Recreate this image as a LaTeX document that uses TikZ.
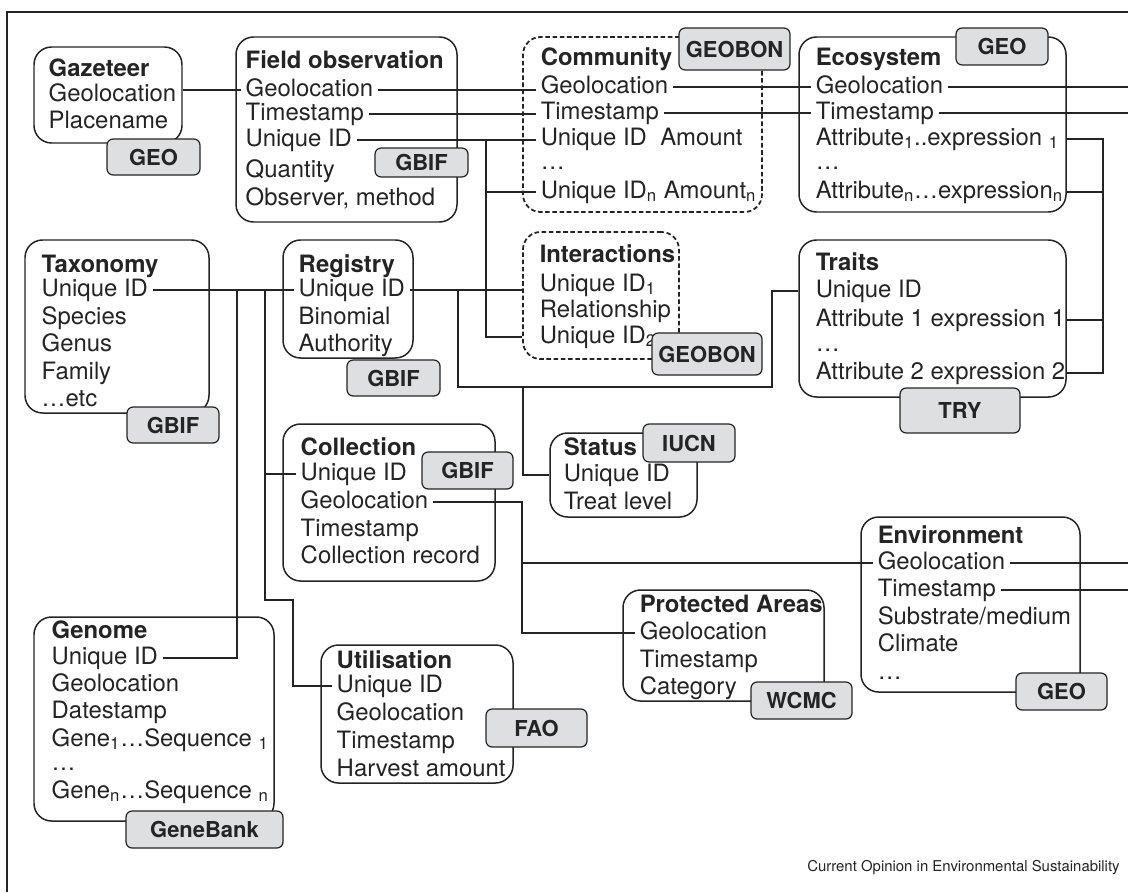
\documentclass[tikz,border=0pt]{standalone}
\usepackage{fontspec}
\setmainfont{TeX Gyre Heros}
\usetikzlibrary{fit,positioning}

\definecolor{ink}{HTML}{242424}
\definecolor{tagfill}{HTML}{DEDFE0}

\begin{document}
\begin{tikzpicture}[
    x=0.02cm, y=-0.02cm,
    entity/.style={draw=ink, line width=0.85pt, rounded corners=10pt, inner sep=0pt},
    weakentity/.style={entity, dash pattern=on 2.6pt off 1.5pt, line width=1pt},
    srctag/.style={draw=ink, fill=tagfill, line width=0.7pt, rounded corners=3.5pt, inner sep=0pt,
        label={[text=ink, inner sep=0pt, font=\bfseries\fontsize{12.5}{14}\selectfont]center:#1}},
    item/.style={anchor=west, inner xsep=2.5pt, inner ysep=0pt, text height=9pt, text depth=2pt,
        text=ink, font=\fontsize{13.6}{16}\selectfont},
    head/.style={item, font=\bfseries\fontsize{13.6}{16}\selectfont},
    link/.style={draw=ink, line width=0.65pt}
]
\useasboundingbox (0,0) rectangle (1128,892);

% Frame
\draw[ink, line width=0.7pt] (7,892) -- (7,12) -- (1128,12);
\coordinate (edge) at (1128,0);

% Tables
\node[entity, fit={(34,47) (182,143)}] (gaz) {};
\node[entity, fit={(236,37) (457,222)}] (fo) {};
\node[weakentity, fit={(523,37) (762,212)}] (com) {};
\node[entity, fit={(799,37) (1066,212)}] (eco) {};
\node[entity, fit={(25,240) (209,413)}] (tax) {};
\node[entity, fit={(283,240) (413,358)}] (reg) {};
\node[weakentity, fit={(523,232) (679,359)}] (int) {};
\node[entity, fit={(799,240) (1066,397)}] (tr) {};
\node[entity, fit={(283,424) (495,581)}] (col) {};
\node[entity, fit={(550,433) (697,517)}] (st) {};
\node[entity, fit={(861,517) (1080,692)}] (env) {};
\node[entity, fit={(623,590) (824,701)}] (pa) {};
\node[entity, fit={(321,645) (513,783)}] (uti) {};
\node[entity, fit={(34,617) (274,821)}] (gen) {};

% Gazetteer
\node[head] (gaz-t) at (44,70) {Gazeteer};
\node[item] (gaz-geo) at (44,95) {Geolocation};
\node[item] (gaz-place) at (44,122) {Placename};

% Field observation
\node[head] (fo-t) at (241,62) {Field observation};
\node[item] (fo-geo) at (241,90) {Geolocation};
\node[item] (fo-time) at (241,114) {Timestamp};
\node[item] (fo-uid) at (241,140) {Unique ID};
\node[item] (fo-qty) at (241,171) {Quantity};
\node[item] (fo-obs) at (241,199) {Observer, method};

% Community
\node[head] (com-t) at (536,59) {Community};
\node[item] (com-geo) at (536,87) {Geolocation};
\node[item] (com-time) at (536,113) {Timestamp};
\node[item] (com-uid) at (536,139) {Unique ID\ \ Amount};
\node[item] (com-dots) at (536,163) {…};
\node[item] (com-uidn) at (536,192) {Unique ID\textsubscript{n} Amount\textsubscript{n}};

% Ecosystem
\node[head] (eco-t) at (811,59) {Ecosystem};
\node[item] (eco-geo) at (811,87) {Geolocation};
\node[item] (eco-time) at (811,113) {Timestamp};
\node[item] (eco-att1) at (811,139) {Attribute\textsubscript{1}..expression \textsubscript{1}};
\node[item] (eco-dots) at (811,163) {…};
\node[item] (eco-attn) at (811,192) {Attribute\textsubscript{n}…expression\textsubscript{n}};

% Taxonomy
\node[head] (tax-t) at (37,266) {Taxonomy};
\node[item] (tax-uid) at (37,290) {Unique ID};
\node[item] (tax-sp) at (37,318) {Species};
\node[item] (tax-gen) at (37,345) {Genus};
\node[item] (tax-fam) at (37,373) {Family};
\node[item] (tax-etc) at (37,400) {…etc};

% Registry
\node[head] (reg-t) at (294,266) {Registry};
\node[item] (reg-uid) at (294,290) {Unique ID};
\node[item] (reg-bin) at (294,318) {Binomial};
\node[item] (reg-auth) at (294,345) {Authority};

% Interactions
\node[head] (int-t) at (535,256) {Interactions};
\node[item] (int-uid1) at (535,285) {Unique ID\textsubscript{1}};
\node[item] (int-rel) at (535,311) {Relationship};
\node[item] (int-uid2) at (535,337) {Unique ID\textsubscript{2}};

% Traits
\node[head] (tr-t) at (811,264) {Traits};
\node[item] (tr-uid) at (811,291) {Unique ID};
\node[item] (tr-att1) at (811,320) {Attribute 1 expression 1};
\node[item] (tr-dots) at (811,345) {…};
\node[item] (tr-att2) at (811,373) {Attribute 2 expression 2};

% Collection
\node[head] (col-t) at (296,449) {Collection};
\node[item] (col-uid) at (296,474) {Unique ID};
\node[item] (col-geo) at (296,502) {Geolocation};
\node[item] (col-time) at (296,530) {Timestamp};
\node[item] (col-rec) at (296,557) {Collection record};

% Status
\node[head] (st-t) at (559,449) {Status};
\node[item] (st-uid) at (559,475) {Unique ID};
\node[item] (st-lvl) at (559,503) {Treat level};

% Environment
\node[head] (env-t) at (873,537) {Environment};
\node[item] (env-geo) at (873,563) {Geolocation};
\node[item] (env-time) at (873,590) {Timestamp};
\node[item] (env-sub) at (873,618) {Substrate/medium};
\node[item] (env-clim) at (873,645) {Climate};
\node[item] (env-dots) at (873,673) {…};

% Protected Areas
\node[head] (pa-t) at (635,606) {Protected Areas};
\node[item] (pa-geo) at (635,633) {Geolocation};
\node[item] (pa-time) at (635,661) {Timestamp};
\node[item] (pa-cat) at (635,688) {Category};

% Utilisation
\node[head] (uti-t) at (332,662) {Utilisation};
\node[item] (uti-uid) at (332,686) {Unique ID};
\node[item] (uti-geo) at (332,714) {Geolocation};
\node[item] (uti-time) at (332,742) {Timestamp};
\node[item] (uti-harv) at (332,770) {Harvest amount};

% Genome
\node[head] (gen-t) at (47,632) {Genome};
\node[item] (gen-uid) at (47,658) {Unique ID};
\node[item] (gen-geo) at (47,685) {Geolocation};
\node[item] (gen-date) at (47,712) {Datestamp};
\node[item] (gen-seq1) at (47,740) {Gene\textsubscript{1}…Sequence \textsubscript{1}};
\node[item] (gen-dots) at (47,764) {…};
\node[item] (gen-seqn) at (47,792) {Gene\textsubscript{n}…Sequence \textsubscript{n}};

% Sources
\node[srctag=GEO, fit={(107,139) (200,175)}] (gaz-src) {};
\node[srctag=GBIF, fit={(375,148) (468,177)}] (fo-src) {};
\node[srctag=GEOBON, fit={(679,28) (790,70)}] (com-src) {};
\node[srctag=GEO, fit={(956,28) (1048,65)}] (eco-src) {};
\node[srctag=GBIF, fit={(127,407) (219,443)}] (tax-src) {};
\node[srctag=GBIF, fit={(347,360) (440,396)}] (reg-src) {};
\node[srctag=GEOBON, fit={(652,333) (762,375)}] (int-src) {};
\node[srctag=TRY, fit={(900,388) (1020,433)}] (tr-src) {};
\node[srctag=GBIF, fit={(422,452) (513,489)}] (col-src) {};
\node[srctag=IUCN, fit={(643,424) (735,462)}] (st-src) {};
\node[srctag=GEO, fit={(1016,673) (1107,710)}] (env-src) {};
\node[srctag=WCMC, fit={(751,682) (852,719)}] (pa-src) {};
\node[srctag=FAO, fit={(486,709) (587,747)}] (uti-src) {};
\node[srctag=GeneBank, fit={(126,811) (283,848)}] (gen-src) {};

% Links, top row
\draw[link] (gaz.east |- fo-geo) -- (fo-geo.west);
\draw[link] (fo-geo.east) -- (fo-geo.east -| com-geo.west);
\draw[link] (fo-time.east) -- (fo-time.east -| com-time.west);
\draw[link] (fo-uid.east) -- (fo-uid.east -| com-uid.west);
\draw[link] (com-geo.east) -- (eco-geo.west);
\draw[link] (com-time.east) -- (eco-time.west);
\draw[link] (eco-geo.east) -- (eco-geo.east -| edge);
\draw[link] (eco-time.east) -- (eco-time.east -| edge);

\coordinate (cj) at (486,0);
\draw[link] (cj |- fo-uid) |- (int.west |- int-uid2);
\draw[link] (cj |- com-uidn) -- (com-uidn.west);

\coordinate (bus) at (1103,0);
\draw[link] (eco.east |- eco-att1) -- (bus |- eco-att1) -- (bus |- tr-att2) -- (tr.east |- tr-att2);
\draw[link] (eco.east |- eco-attn) -- (bus |- eco-attn);
\draw[link] (tr.east |- tr-att1) -- (bus |- tr-att1);

% Links, taxonomy and registry
\draw[link] (tax-uid.east) -- (reg-uid.west);
\coordinate (ta) at (237,0);
\coordinate (tb) at (265,0);
\coordinate (tc) at (293,600);
\draw[link] (ta |- tax-uid) |- (gen-uid.east);
\draw[link] (tb |- tax-uid) |- (col-uid.west);
\draw[link] (tb |- col-uid) |- (tc) |- (uti-uid.west);

\draw[link] (reg-uid.east) -- (int.west |- reg-uid);
\coordinate (ra) at (458,0);
\coordinate (rb) at (772,387);
\coordinate (rc) at (523,387);
\draw[link] (ra |- reg-uid) |- (rb) |- (tr.west |- tr-uid);
\draw[link] (rc) |- (st.west |- st-uid);

% Links, collection and environment
\coordinate (ca) at (522,0);
\draw[link] (col-geo.east) -- (ca |- col-geo) |- (pa-geo.west);
\draw[link] (ca |- env-geo) -- (env-geo.west);
\draw[link] (env-geo.east) -- (env-geo.east -| edge);
\draw[link] (env-time.east) -- (env-time.east -| edge);

% Credit
\node[anchor=east, inner sep=0pt, text=ink, font=\fontsize{8.5}{10}\selectfont] (credit) at (1120,868) {Current Opinion in Environmental Sustainability};

\end{tikzpicture}
\end{document}
